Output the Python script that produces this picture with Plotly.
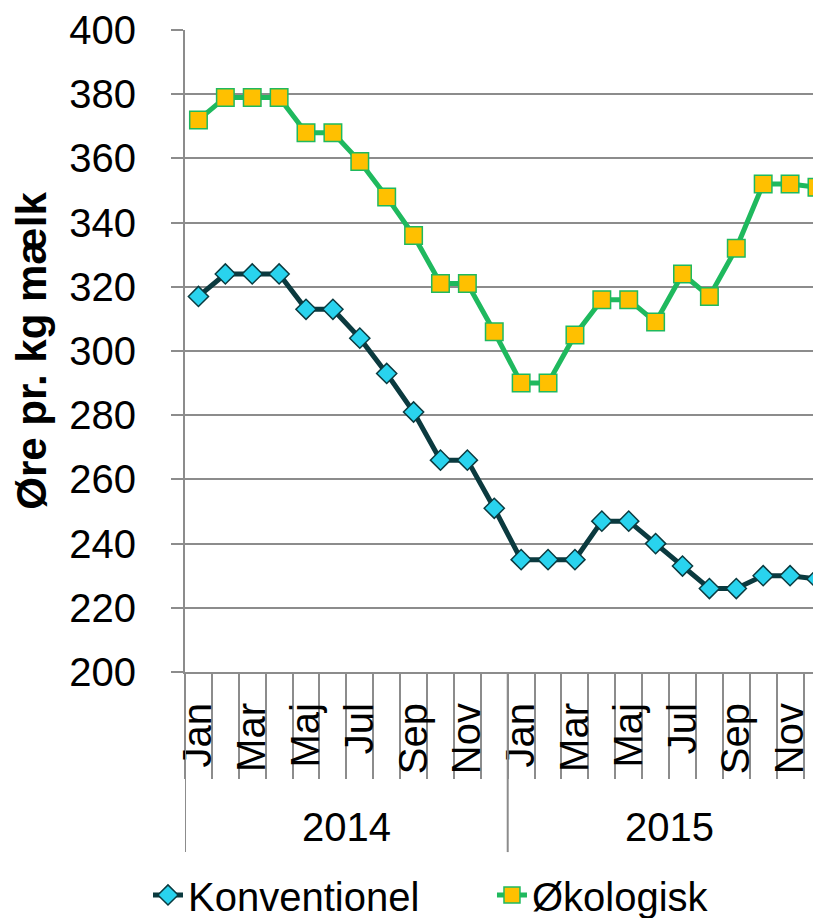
import plotly.graph_objects as go

months = ["Jan", "Feb", "Mar", "Apr", "Maj", "Jun", "Jul", "Aug", "Sep", "Okt", "Nov", "Dec"]
years = ["2014", "2015"]
konventionel = [317, 324, 324, 324, 313, 313, 304, 293, 281, 266, 266, 251,
                235, 235, 235, 247, 247, 240, 233, 226, 226, 230, 230, 229]
okologisk = [372, 379, 379, 379, 368, 368, 359, 348, 336, 321, 321, 306,
             290, 290, 305, 316, 316, 309, 324, 317, 332, 352, 352, 351]
y_ticks = list(range(200, 401, 20))

n = len(konventionel)
xs = list(range(n))
tick_idx = [i for i in xs if i % 2 == 0]
tick_txt = [months[i % 12] for i in tick_idx]

FONT = "Liberation Sans, Arial, sans-serif"
GRID = "#8c8c8c"

fig = go.Figure()
fig.add_trace(go.Scatter(
    x=xs, y=konventionel, name="Konventionel", mode="lines+markers",
    line=dict(color="#0b3a3f", width=5),
    marker=dict(symbol="diamond", size=15.5, color="#29d3ee",
                line=dict(color="#0b3a3f", width=1.5)),
    legend="legend",
))
fig.add_trace(go.Scatter(
    x=xs, y=okologisk, name="Økologisk", mode="lines+markers",
    line=dict(color="#1fb95e", width=5),
    marker=dict(symbol="square", size=17.5, color="#ffc000",
                line=dict(color="#1fb95e", width=1.5)),
    legend="legend2",
))

# year labels and year dividers
for k, yr in enumerate(years):
    fig.add_annotation(x=k * 12 + 5.5, y=-0.2414, xref="x", yref="paper",
                       text=yr, showarrow=False, yanchor="middle",
                       font=dict(family=FONT, size=40, color="black"))
    fig.add_shape(type="line", x0=k * 12 - 0.5, x1=k * 12 - 0.5, xref="x",
                  y0=0, y1=-0.2805, yref="paper",
                  line=dict(color=GRID, width=2))

legend_common = dict(orientation="h", xref="container", yref="container",
                     xanchor="left", y=0.0253, yanchor="middle",
                     font=dict(family=FONT, size=40, color="black"),
                     itemwidth=30)

# page body has an 8px margin: the figure is sized/offset to compensate
fig.update_layout(
    width=813, height=910,
    margin=dict(l=177, r=0, t=22, b=246),
    paper_bgcolor="white", plot_bgcolor="white",
    font=dict(family=FONT, size=40, color="black"),
    showlegend=True,
    legend=dict(x=0.1722, **legend_common),
    legend2=dict(x=0.5953, **legend_common),
    xaxis=dict(
        range=[-0.5, 23.15], showgrid=False, zeroline=False,
        tickmode="array", tickvals=tick_idx, ticktext=tick_txt,
        tickangle=-90, ticks="", ticklabelstandoff=13,
        tickfont=dict(family=FONT, size=40, color="black"),
        showline=True, linecolor=GRID, linewidth=2,
        minor=dict(ticks="outside", tickmode="array",
                   tickvals=[i - 0.5 for i in range(n + 1)],
                   ticklen=105, tickcolor=GRID, tickwidth=2),
    ),
    yaxis=dict(
        range=[200, 400], tickvals=y_ticks, showgrid=True, gridcolor=GRID,
        gridwidth=2, zeroline=False, ticks="outside", ticklen=12,
        tickcolor=GRID, tickwidth=2, showline=True, linecolor=GRID,
        linewidth=2, ticklabelstandoff=27,
        tickfont=dict(family=FONT, size=40, color="black"),
        title=dict(text="<b>Øre pr. kg mælk</b>", standoff=10,
                   font=dict(family=FONT, size=42, color="black")),
    ),
)

fig.write_html("out.html")
